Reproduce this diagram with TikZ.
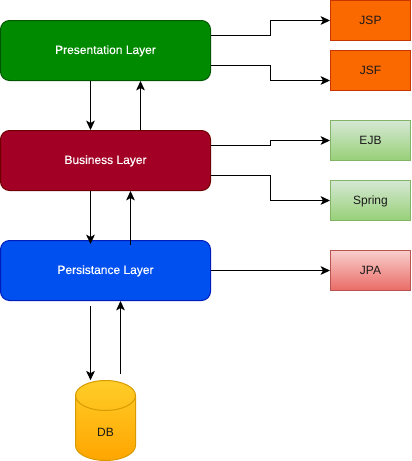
\documentclass[tikz,border=0pt]{standalone}
\usepackage{fontspec}
\setmainfont{Liberation Sans}
\newfontfamily\layerfont[FakeBold=0.25]{Liberation Sans}
\usetikzlibrary{arrows.meta}
\definecolor{cGreen}{HTML}{008A00}\definecolor{cGreenB}{HTML}{005700}
\definecolor{cRed}{HTML}{A20025}\definecolor{cRedB}{HTML}{6F0000}
\definecolor{cBlue}{HTML}{0050EF}\definecolor{cBlueB}{HTML}{001DBC}
\definecolor{cOr}{HTML}{FA6800}\definecolor{cOrB}{HTML}{C73500}
\definecolor{cGT}{HTML}{D5E8D4}\definecolor{cGL}{HTML}{97D077}\definecolor{cGB}{HTML}{82B366}
\definecolor{cRT}{HTML}{F8CECC}\definecolor{cRL}{HTML}{EA6B66}\definecolor{cRBd}{HTML}{B85450}
\definecolor{cYT}{HTML}{FFCD28}\definecolor{cYL}{HTML}{FFA500}\definecolor{cYB}{HTML}{D79B00}
\definecolor{cTxt}{HTML}{1A1A1A}
\tikzset{
  layerbox/.style={draw=#1,line width=0.75pt,rounded corners=6.75pt,minimum width=157.5pt,minimum height=45pt,inner sep=0pt,text=white,text height=7.6pt,text depth=2.4pt,font=\layerfont\fontsize{9}{11}\selectfont},
  techbox/.style={line width=0.75pt,minimum width=60pt,minimum height=30pt,inner sep=0pt,text=cTxt,text height=8pt,text depth=2pt,font=\fontsize{9}{11}\selectfont},
  link/.style={line width=0.75pt,-{Stealth[length=7pt,width=6.5pt,inset=1.7pt]}},
}
\begin{document}
\begin{tikzpicture}[x=0.75pt,y=-0.75pt]
\useasboundingbox (0,0) rectangle (411,461);
\node[layerbox=cGreenB,fill=cGreen] (pres) at (105.5,50.5) {Presentation Layer};
\node[layerbox=cRedB,fill=cRed] (bus) at (105.5,160.5) {Business Layer};
\node[layerbox=cBlueB,fill=cBlue] (pers) at (105.5,270.5) {Persistance Layer};
\node[techbox,draw=cOrB,fill=cOr] (jsp) at (370.5,20.5) {JSP};
\node[techbox,draw=cOrB,fill=cOr] (jsf) at (370.5,70.5) {JSF};
\node[techbox,draw=cGB,top color=cGT,bottom color=cGL] (ejb) at (370.5,140.5) {EJB};
\node[techbox,draw=cGB,top color=cGT,bottom color=cGL] (spring) at (370.5,200.5) {Spring};
\node[techbox,draw=cRBd,top color=cRT,bottom color=cRL] (jpa) at (370.5,270.5) {JPA};
% cylinder
\path[draw=cYB,line width=0.75pt,top color=cYT,bottom color=cYL]
  (75.5,395.5) arc[x radius=30,y radius=15,start angle=180,end angle=360]
  -- (135.5,445.5) arc[x radius=30,y radius=15,start angle=0,end angle=180] -- cycle;
\draw[cYB,line width=0.75pt] (75.5,395.5) arc[x radius=30,y radius=15,start angle=180,end angle=0];
\node[inner sep=0pt,minimum width=45pt,minimum height=60pt] (db) at (105.5,420.5) {};
\node[inner sep=0pt,text=cTxt,text height=8pt,text depth=2pt,font=\fontsize{9}{11}\selectfont] (dblabel) at (105.5,432.5) {DB};
% free ends
\coordinate (persOut) at (90.5,306);
\coordinate (dbOut) at (120.5,374);
\coordinate (busIn) at (90.5,244);
\coordinate (busOut) at (130.5,245);
% layer links
\draw[link] (pres.south -| 90.5,0) -- (bus.north -| 90.5,0);
\draw[link] (bus.north -| 140.5,0) -- (pres.south -| 140.5,0);
\draw[link] (bus.south -| 90.5,0) -- (busIn);
\draw[link] (busOut) -- (bus.south -| 130.5,0);
\draw[link] (persOut) -- (db.north -| 90.5,0);
\draw[link] (dbOut) -- (pers.south -| 120.5,0);
% tech links
\draw[link] (pres.east |- 0,35.5) -| (270.5,20.5) -- (jsp.west);
\draw[link] (pres.east |- 0,65.5) -| (270.5,80.5) -- (jsf.west |- 0,80.5);
\draw[link] (bus.east |- 0,145.5) -| (270.5,140.5) -- (ejb.west);
\draw[link] (bus.east |- 0,175.5) -| (270.5,200.5) -- (spring.west);
\draw[link] (pers.east) -- (jpa.west);
\end{tikzpicture}
\end{document}
